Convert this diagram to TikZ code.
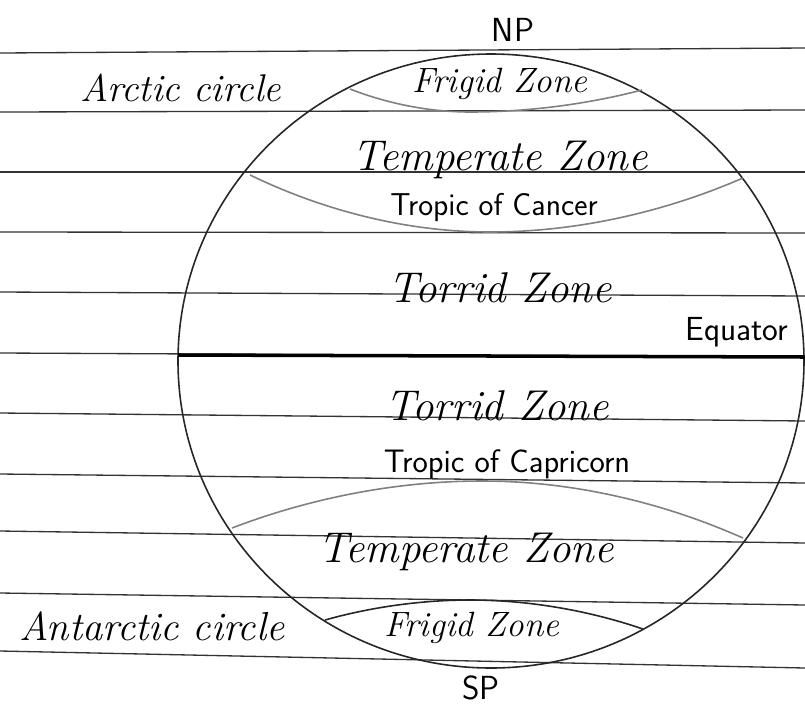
\documentclass[tikz,border=0pt]{standalone}
\usepackage{tikz}
\usetikzlibrary{calc}

\begin{document}
\begin{tikzpicture}[x=0.02cm, y=-0.02cm,
  rule/.style={draw=black!80, line width=0.75pt},
  globe/.style={draw=black!85, line width=0.9pt},
  latline/.style={draw=black!50, line width=0.9pt},
  zone/.style={font=\itshape\fontsize{24.5}{26}\selectfont},
  small zone/.style={font=\itshape\fontsize{20}{22}\selectfont},
  circle tag/.style={font=\itshape\fontsize{22}{24}\selectfont},
  tag/.style={font=\sffamily\fontsize{18}{20}\selectfont}]
  \useasboundingbox[fill=white] (0,0) rectangle (805,704);
  \foreach \yl/\yr in {53/48, 112/110, 172/172, 232/233, 292/296, 353/357,
                       413/421, 474/483, 531/543, 593/605, 651/668}
    \draw[rule] (0,\yl) -- (805,\yr);
  \coordinate (c) at (491,361);
  \draw[globe] (c) ellipse [x radius=313, y radius=307];
  \coordinate (arcticW) at (350,89);
  \coordinate (arcticE) at (642,90);
  \coordinate (cancerW) at (250,175);
  \coordinate (cancerE) at (743,178);
  \coordinate (capW) at (232,528);
  \coordinate (capE) at (743,538);
  \coordinate (antW) at (325,620);
  \coordinate (antE) at (643,629);
  \coordinate (eqW) at (178,355);
  \coordinate (eqE) at (805,357);
  \draw[latline] (arcticW) parabola bend (470,112) (arcticE);
  \draw[latline] (cancerW) parabola bend (490,232) (cancerE);
  \draw[latline] (capW) parabola bend (482,481) (capE);
  \draw[globe] (antW) parabola bend (470,600) (antE);
  \draw[line width=2pt] (eqW) -- (eqE);
  \node[tag, font=\sffamily\fontsize{19}{21}\selectfont] (np) at (513,30) {NP};
  \node[circle tag] (arctic) at (181,88) {Arctic circle};
  \node[small zone] (frigidN) at (500,84) {Frigid Zone};
  \node[zone] (temperateN) at (500,160) {Temperate Zone};
  \node[tag] (cancer) at (494,207) {Tropic of Cancer};
  \node[zone] (torridN) at (500,288) {Torrid Zone};
  \node[tag, font=\sffamily\fontsize{19}{21}\selectfont] (equator) at (737,332) {Equator};
  \node[zone] (torridS) at (497,406) {Torrid Zone};
  \node[tag, font=\sffamily\fontsize{18.5}{20}\selectfont] (capricorn) at (507,464) {Tropic of Capricorn};
  \node[zone] (temperateS) at (466,552) {Temperate Zone};
  \node[circle tag, font=\itshape\fontsize{23}{25}\selectfont] (antarctic) at (152,626) {Antarctic circle};
  \node[small zone] (frigidS) at (472,628) {Frigid Zone};
  \node[tag, font=\sffamily\fontsize{19}{21}\selectfont] (sp) at (481,688) {SP};
\end{tikzpicture}
\end{document}
